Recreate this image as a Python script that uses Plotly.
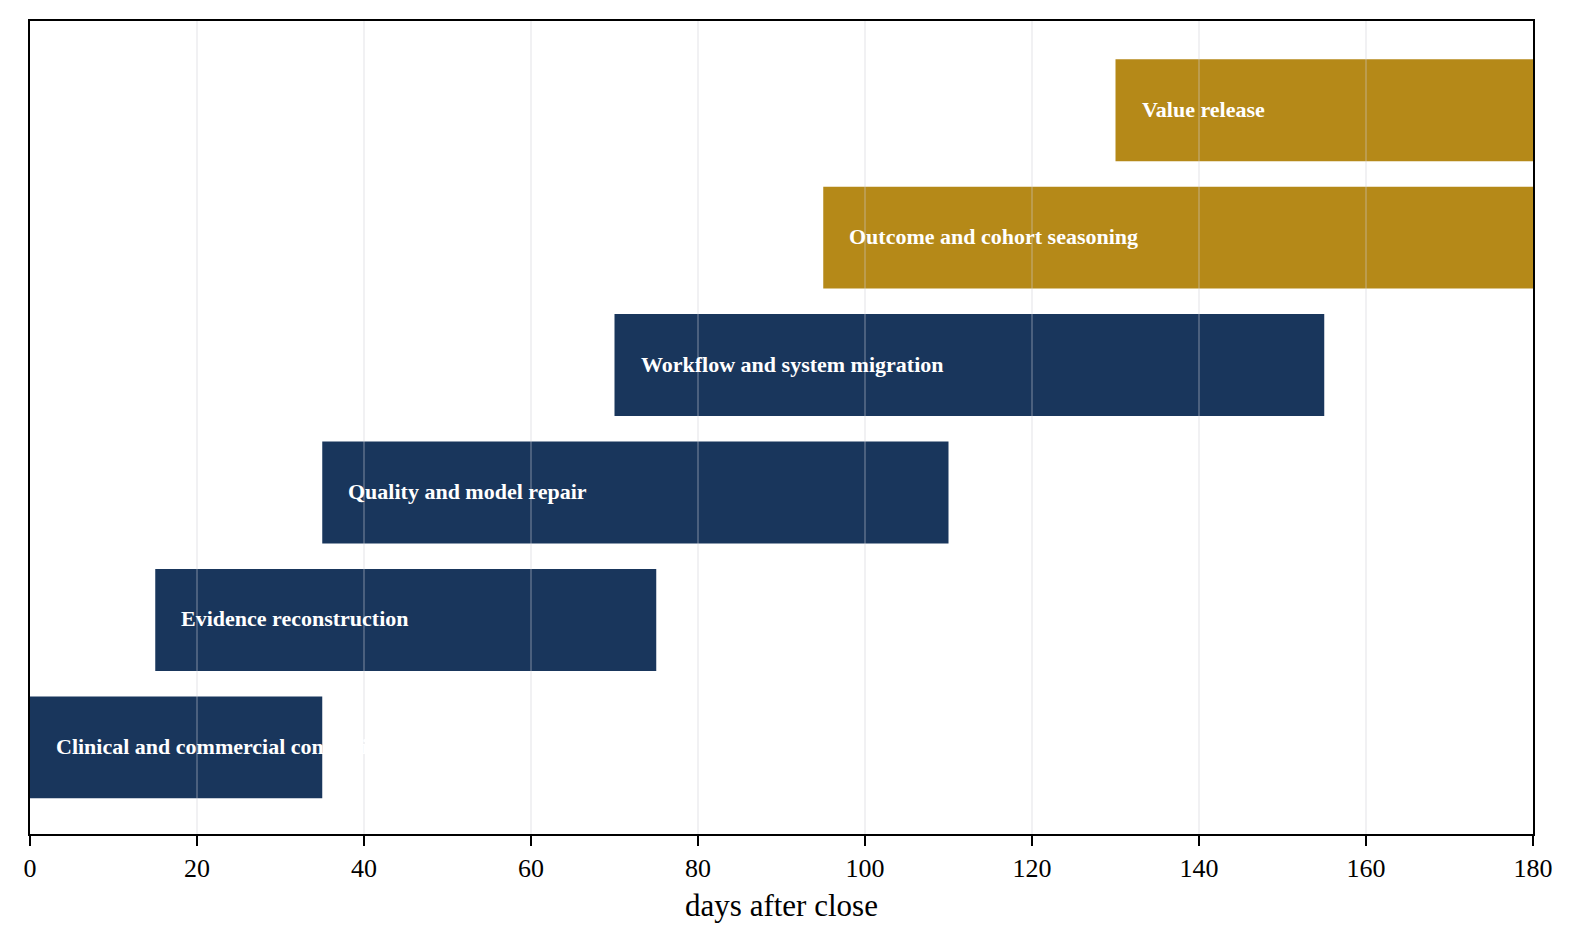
import plotly.graph_objects as go

tasks = [
    "Clinical and commercial continuity",
    "Evidence reconstruction",
    "Quality and model repair",
    "Workflow and system migration",
    "Outcome and cohort seasoning",
    "Value release",
]
start_days = [0, 15, 35, 70, 95, 130]
end_days = [35, 75, 110, 155, 180, 180]
phase = ["stabilize", "stabilize", "stabilize", "stabilize", "season", "season"]
tick_values = [0, 20, 40, 60, 80, 100, 120, 140, 160, 180]

NAVY = "#19365c"
GOLD = "#b58918"
color_map = {"stabilize": NAVY, "season": GOLD}
FONT = "Liberation Serif, Times New Roman, serif"

ypos = list(range(len(tasks)))
durations = [e - s for s, e in zip(start_days, end_days)]

fig = go.Figure()
fig.add_trace(go.Bar(
    y=ypos,
    x=durations,
    base=start_days,
    orientation="h",
    width=0.8,
    marker=dict(color=[color_map[p] for p in phase], line=dict(width=0)),
    hovertext=tasks,
    showlegend=False,
))

# gridlines drawn above bars (faint)
for t in tick_values[1:-1]:
    fig.add_shape(type="line", xref="x", yref="paper", x0=t, x1=t, y0=0, y1=1,
                  line=dict(color="rgba(205,205,210,0.38)", width=1.5), layer="above")

for i, (name, s) in enumerate(zip(tasks, start_days)):
    fig.add_annotation(x=s, y=i, xref="x", yref="y", text=name, showarrow=False,
                       xanchor="left", yanchor="middle", xshift=24, yshift=1,
                       font=dict(family=FONT, size=22, color="white", weight="bold"))

fig.update_layout(
    width=1572, height=944,
    margin=dict(l=22, r=47, t=13, b=118),
    plot_bgcolor="white", paper_bgcolor="white",
    font=dict(family=FONT, color="black"),
    bargap=0.2,
)
fig.update_xaxes(
    range=[0, 180], tickvals=tick_values, showgrid=False, zeroline=False,
    showline=True, linecolor="black", linewidth=2, mirror=True,
    ticks="outside", ticklen=10, tickwidth=2, tickcolor="black",
    tickfont=dict(family=FONT, size=26, color="black"),
    title=dict(text="days after close", font=dict(family=FONT, size=31, color="black"), standoff=12),
)
fig.update_yaxes(
    range=[-0.68, 5.70], showticklabels=False, showgrid=False, zeroline=False,
    showline=True, linecolor="black", linewidth=2, mirror=True, ticks="",
)

fig.write_html("out.html")
